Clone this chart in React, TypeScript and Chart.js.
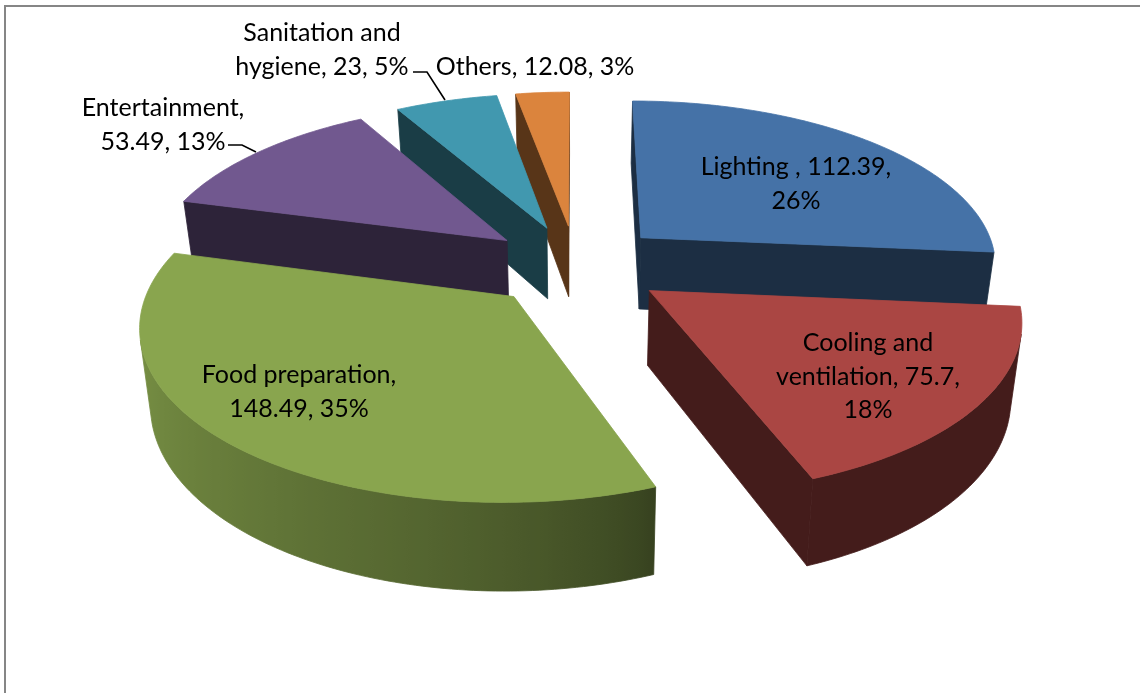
import React, { useEffect, useRef } from "react";
import { Chart, ArcElement, PieController, registerables } from "chart.js";

const categories = ["Lighting ", "Cooling and ventilation", "Food preparation", "Entertainment", "Sanitation and hygiene", "Others"];
const energyUse = [112.39, 75.7, 148.49, 53.49, 23, 12.08];
const sliceColors = ["#4572A7", "#AA4643", "#89A54E", "#71588F", "#4198AF", "#DB843D"];
const sliceOffsets = [90, 90, 90, 89, 88, 88];

// Centre of each data label's first line, and the widest line it may wrap to.
const labelPlacement = [
  { x: 796, y: 167, wrap: 200 },
  { x: 868, y: 343, wrap: 195 },
  { x: 299, y: 375, wrap: 210 },
  { x: 163, y: 108, wrap: 180 },
  { x: 322, y: 33, wrap: 190 },
  { x: 535, y: 67, wrap: 300 },
];
const leaderLines = [
  [[413, 72], [427, 72], [445, 100]],
  [[228, 145], [242, 145], [256, 152]],
];

const VIEW_DISTANCE = 2400;
const TILT = 0.46;
const EXTRUSION = 73;
const BOTTOM_NARROWING = 0.025;
const WALL_SHADE = 0.4;
const LABEL_FONT = "25px Lato";
const LINE_HEIGHT = 33.5;

type Pt = [number, number];

function shadeHex(hex: string, f: number) {
  const n = parseInt(hex.slice(1), 16);
  const c = [(n >> 16) & 255, (n >> 8) & 255, n & 255].map((v) => Math.round(v * f));
  return `rgb(${c[0]},${c[1]},${c[2]})`;
}

// Outer wall lightens from the front-right of the pie round to its left side.
function outerShade(angle: number) {
  let deg = ((angle + Math.PI / 2) * 180) / Math.PI;
  deg = ((deg % 360) + 360) % 360;
  const t = Math.min(1, Math.max(0, (deg - 160) / 110));
  return WALL_SHADE + Math.pow(t, 0.7) * 0.52;
}

function poly(ctx: CanvasRenderingContext2D, pts: Pt[], fill: string | CanvasGradient) {
  ctx.beginPath();
  pts.forEach((p, i) => (i ? ctx.lineTo(p[0], p[1]) : ctx.moveTo(p[0], p[1])));
  ctx.closePath();
  ctx.fillStyle = fill;
  ctx.fill();
  // A hairline in the same paint closes the gaps between neighbouring faces.
  ctx.strokeStyle = fill;
  ctx.lineWidth = 0.8;
  ctx.stroke();
}

function area(pts: Pt[]) {
  let a = 0;
  pts.forEach((p, i) => {
    const q = pts[(i + 1) % pts.length];
    a += p[0] * q[1] - q[0] * p[1];
  });
  return a / 2;
}

// Pie wedge projected onto a tilted plane and extruded downwards.
class Arc3D extends ArcElement {
  static id = "arc3d";

  planeOffset() {
    const mid = (this.startAngle + this.endAngle) / 2;
    const off = this.options.offset || 0;
    return [Math.cos(mid) * off, Math.sin(mid) * off];
  }

  draw(ctx: CanvasRenderingContext2D) {
    const { x: cx, y: cy, startAngle, endAngle, outerRadius: r, options } = this as any;
    const [ox, oy] = this.planeOffset();
    const project = (X: number, Y: number, z: number): Pt => {
      const s = VIEW_DISTANCE / (VIEW_DISTANCE - Y);
      return [cx + X * s * (1 - BOTTOM_NARROWING * z), cy + Y * TILT * s + z * EXTRUSION * s];
    };
    const steps = Math.max(2, Math.ceil(((endAngle - startAngle) * 180) / Math.PI));
    const angles: number[] = [];
    for (let i = 0; i <= steps; i++) angles.push(startAngle + ((endAngle - startAngle) * i) / steps);
    const rim: Pt[] = angles.map((a) => [ox + r * Math.cos(a), oy + r * Math.sin(a)]);
    const apex: Pt = [ox, oy];
    const color = options.backgroundColor as string;
    const wallColor = shadeHex(color, WALL_SHADE);

    const wall = (p: Pt, q: Pt): Pt[] => [project(p[0], p[1], 0), project(q[0], q[1], 0), project(q[0], q[1], 1), project(p[0], p[1], 1)];

    // Straight cut faces, kept only where they turn towards the viewer.
    [wall(apex, rim[0]), wall(rim[steps], apex)].forEach((quad) => {
      if (area(quad) < 0) poly(ctx, quad, wallColor);
    });

    // Curved face: one polygon over the visible run of rim, shaded left to right.
    const run: number[] = [];
    for (let i = 0; i <= steps; i++) {
      const prev = i > 0 && area(wall(rim[i - 1], rim[i])) < 0;
      const next = i < steps && area(wall(rim[i], rim[i + 1])) < 0;
      if (prev || next) run.push(i);
    }
    if (run.length > 1) {
      const top = run.map((i) => project(rim[i][0], rim[i][1], 0));
      const bottom = run.map((i) => project(rim[i][0], rim[i][1], 1));
      const xs = top.map((p) => p[0]);
      const minX = Math.min(...xs);
      const maxX = Math.max(...xs);
      const grad = ctx.createLinearGradient(minX, 0, maxX, 0);
      run.forEach((i, k) => {
        grad.addColorStop((xs[k] - minX) / (maxX - minX || 1), shadeHex(color, outerShade(angles[i])));
      });
      poly(ctx, [...top, ...bottom.reverse()], grad);
    }

    poly(ctx, [apex, ...rim].map((p) => project(p[0], p[1], 0)), color);
  }
}

class Pie3DController extends PieController {
  static id = "pie3d";
  static defaults = { dataElementType: "arc3d" };

  // Far slices are painted first so that nearer ones cover their walls.
  draw() {
    const ctx = this.chart.ctx;
    const items = [...this.getMeta().data] as any[];
    items.sort((a, b) => a.planeOffset()[1] - b.planeOffset()[1]);
    items.forEach((el) => el.draw(ctx));
  }
}

Chart.register(...registerables, Arc3D, Pie3DController);

function wrapText(ctx: CanvasRenderingContext2D, text: string, maxWidth: number) {
  const lines: string[] = [];
  let line = "";
  text.split(" ").forEach((word) => {
    const next = line ? `${line} ${word}` : word;
    if (line && ctx.measureText(next).width > maxWidth) {
      lines.push(line);
      line = word;
    } else {
      line = next;
    }
  });
  lines.push(line);
  return lines;
}

const frameAndLabels = {
  id: "frameAndLabels",
  beforeDraw(chart: Chart) {
    const ctx = chart.ctx;
    ctx.fillStyle = "#868686";
    ctx.fillRect(4, 5, chart.width - 4, 2);
    ctx.fillRect(4, 5, 2, chart.height - 5);
  },
  afterDatasetsDraw(chart: Chart) {
    const ctx = chart.ctx;
    const total = energyUse.reduce((a, b) => a + b, 0);
    ctx.save();
    ctx.strokeStyle = "#000";
    ctx.lineWidth = 1.6;
    leaderLines.forEach((pts) => {
      ctx.beginPath();
      pts.forEach((p, i) => (i ? ctx.lineTo(p[0], p[1]) : ctx.moveTo(p[0], p[1])));
      ctx.stroke();
    });
    ctx.font = LABEL_FONT;
    ctx.fillStyle = "#000";
    ctx.textAlign = "center";
    ctx.textBaseline = "middle";
    categories.forEach((name, i) => {
      const pct = Math.round((energyUse[i] / total) * 100);
      const spot = labelPlacement[i];
      wrapText(ctx, `${name}, ${energyUse[i]}, ${pct}%`, spot.wrap).forEach((line, k) => {
        ctx.fillText(line, spot.x, spot.y + k * LINE_HEIGHT);
      });
    });
    ctx.restore();
  },
};

export default function App() {
  const ref = useRef<HTMLCanvasElement>(null);
  useEffect(() => {
    const chart = new Chart(ref.current!, {
      type: "pie3d" as any,
      data: {
        labels: categories,
        datasets: [{ data: energyUse, backgroundColor: sliceColors, borderWidth: 0, offset: sliceOffsets, hoverOffset: 0 }],
      },
      options: {
        responsive: false,
        animation: false,
        events: [],
        radius: 358,
        layout: { padding: { left: 12, right: 0, top: 0, bottom: 163 } },
        plugins: { legend: { display: false }, tooltip: { enabled: false } },
      } as any,
      plugins: [frameAndLabels],
    });
    return () => chart.destroy();
  }, []);
  return (
    <canvas
      ref={ref}
      width={1140}
      height={693}
      style={{ position: "absolute", left: 0, top: 0, display: "block", background: "#fff" }}
    />
  );
}
